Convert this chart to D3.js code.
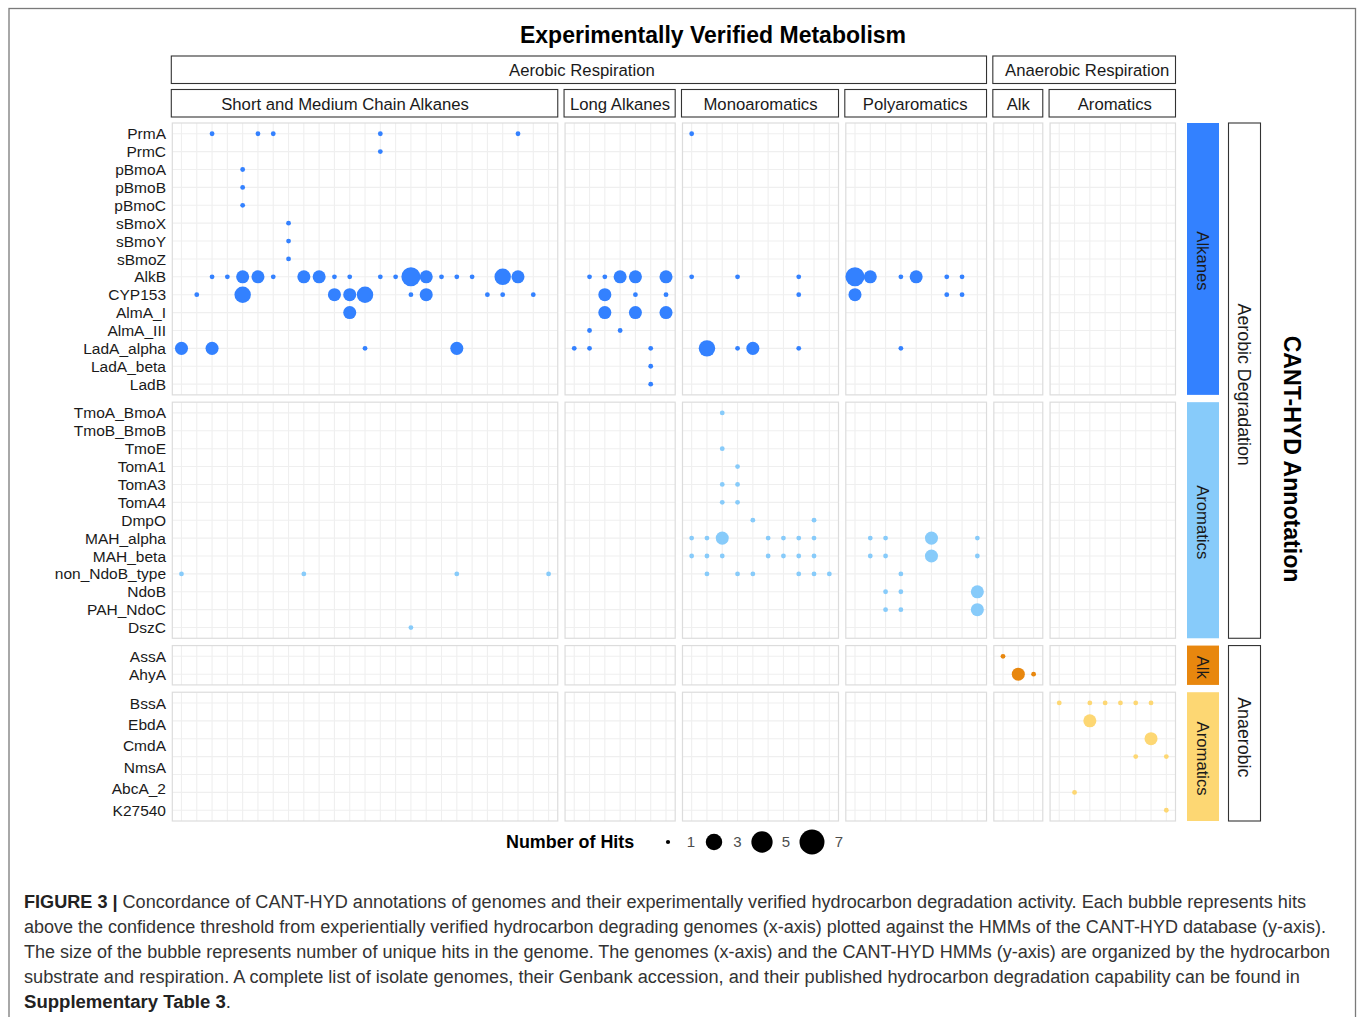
<!DOCTYPE html>
<html><head><meta charset="utf-8">
<script src="https://cdn.jsdelivr.net/npm/d3@7"></script>
<style>
body{margin:0;background:#fff}
svg{display:block}
text{font-family:"Liberation Sans",Arial,Helvetica,sans-serif}
</style>
</head><body>
<svg id="chart" width="1357" height="1017"></svg>
<script>
// ---------------- DATA ----------------
const chartTitle = "Experimentally Verified Metabolism";
const yAxisTitle = "CANT-HYD Annotation";
const legendTitle = "Number of Hits";
const legendValues = [1, 3, 5, 7];

// column facets (genome groups)
const xFacets = ["Short and Medium Chain Alkanes", "Long Alkanes", "Monoaromatics", "Polyaromatics", "Alk", "Aromatics"];
const xFacetGroups = ["Aerobic Respiration", "Aerobic Respiration", "Aerobic Respiration", "Aerobic Respiration", "Anaerobic Respiration", "Anaerobic Respiration"];
const genomesPerFacet = [25, 7, 10, 9, 3, 8];

// row facets (HMM groups)
const rowFacets = ["Alkanes", "Aromatics", "Alk", "Aromatics"];
const rowFacetGroups = ["Aerobic Degradation", "Aerobic Degradation", "Anaerobic", "Anaerobic"];
const rowFacetColors = ["#3381FF", "#87CBFA", "#E8870E", "#FDD773"];

const hmmAlkanes = ["PrmA", "PrmC", "pBmoA", "pBmoB", "pBmoC", "sBmoX", "sBmoY", "sBmoZ", "AlkB", "CYP153", "AlmA_I", "AlmA_III", "LadA_alpha", "LadA_beta", "LadB"];
const hmmAromatics = ["TmoA_BmoA", "TmoB_BmoB", "TmoE", "TomA1", "TomA3", "TomA4", "DmpO", "MAH_alpha", "MAH_beta", "non_NdoB_type", "NdoB", "PAH_NdoC", "DszC"];
const hmmAnaAlk = ["AssA", "AhyA"];
const hmmAnaArom = ["BssA", "EbdA", "CmdA", "NmsA", "AbcA_1", "AbcA_2", "K27540"];
const hmmAnaAromLabels = ["BssA", "EbdA", "CmdA", "NmsA", "AbcA_2", "K27540"];

// hits: [HMM, column facet index, genome index within facet, number of hits]
const hitsAlkanes = [
  ["PrmA",0,2,1],["PrmA",0,5,1],["PrmA",0,6,1],["PrmA",0,13,1],["PrmA",0,22,1],
  ["PrmC",0,13,1],
  ["pBmoA",0,4,1],["pBmoB",0,4,1],["pBmoC",0,4,1],
  ["sBmoX",0,7,1],["sBmoY",0,7,1],["sBmoZ",0,7,1],
  ["AlkB",0,2,1],["AlkB",0,3,1],["AlkB",0,4,2],["AlkB",0,5,2],["AlkB",0,6,1],["AlkB",0,8,2],["AlkB",0,9,2],
  ["AlkB",0,10,1],["AlkB",0,11,1],["AlkB",0,13,1],["AlkB",0,14,1],["AlkB",0,15,4],["AlkB",0,16,2],["AlkB",0,17,1],
  ["AlkB",0,18,1],["AlkB",0,19,1],["AlkB",0,21,3],["AlkB",0,22,2],
  ["CYP153",0,1,1],["CYP153",0,4,3],["CYP153",0,10,2],["CYP153",0,11,2],["CYP153",0,12,3],["CYP153",0,15,1],
  ["CYP153",0,16,2],["CYP153",0,20,1],["CYP153",0,21,1],["CYP153",0,23,1],
  ["AlmA_I",0,11,2],
  ["LadA_alpha",0,0,2],["LadA_alpha",0,2,2],["LadA_alpha",0,12,1],["LadA_alpha",0,18,2],
  ["AlkB",1,1,1],["AlkB",1,2,1],["AlkB",1,3,2],["AlkB",1,4,2],["AlkB",1,6,2],
  ["CYP153",1,2,2],["CYP153",1,4,1],["CYP153",1,6,1],
  ["AlmA_I",1,2,2],["AlmA_I",1,4,2],["AlmA_I",1,6,2],
  ["AlmA_III",1,1,1],["AlmA_III",1,3,1],
  ["LadA_alpha",1,0,1],["LadA_alpha",1,1,1],["LadA_alpha",1,5,1],
  ["LadA_beta",1,5,1],["LadB",1,5,1],
  ["PrmA",2,0,1],
  ["AlkB",2,0,1],["AlkB",2,3,1],["AlkB",2,7,1],
  ["CYP153",2,7,1],
  ["LadA_alpha",2,1,3],["LadA_alpha",2,3,1],["LadA_alpha",2,4,2],["LadA_alpha",2,7,1],
  ["AlkB",3,0,4],["AlkB",3,1,2],["AlkB",3,3,1],["AlkB",3,4,2],["AlkB",3,6,1],["AlkB",3,7,1],
  ["CYP153",3,0,2],["CYP153",3,6,1],["CYP153",3,7,1],
  ["LadA_alpha",3,3,1]
];
const hitsAromatics = [
  ["non_NdoB_type",0,0,1],["non_NdoB_type",0,8,1],["non_NdoB_type",0,18,1],["non_NdoB_type",0,24,1],
  ["DszC",0,15,1],
  ["TmoA_BmoA",2,2,1],["TmoE",2,2,1],["TomA1",2,3,1],["TomA3",2,2,1],["TomA3",2,3,1],["TomA4",2,2,1],["TomA4",2,3,1],
  ["DmpO",2,4,1],["DmpO",2,8,1],
  ["MAH_alpha",2,0,1],["MAH_alpha",2,1,1],["MAH_alpha",2,2,2],["MAH_alpha",2,5,1],["MAH_alpha",2,6,1],["MAH_alpha",2,7,1],["MAH_alpha",2,8,1],
  ["MAH_beta",2,0,1],["MAH_beta",2,1,1],["MAH_beta",2,2,1],["MAH_beta",2,5,1],["MAH_beta",2,6,1],["MAH_beta",2,7,1],["MAH_beta",2,8,1],
  ["non_NdoB_type",2,1,1],["non_NdoB_type",2,3,1],["non_NdoB_type",2,4,1],["non_NdoB_type",2,7,1],["non_NdoB_type",2,8,1],["non_NdoB_type",2,9,1],
  ["MAH_alpha",3,1,1],["MAH_alpha",3,2,1],["MAH_alpha",3,5,2],["MAH_alpha",3,8,1],
  ["MAH_beta",3,1,1],["MAH_beta",3,2,1],["MAH_beta",3,5,2],["MAH_beta",3,8,1],
  ["non_NdoB_type",3,3,1],
  ["NdoB",3,2,1],["NdoB",3,3,1],["NdoB",3,8,2],
  ["PAH_NdoC",3,2,1],["PAH_NdoC",3,3,1],["PAH_NdoC",3,8,2]
];
const hitsAnaAlk = [
  ["AssA",4,0,1],["AhyA",4,1,2],["AhyA",4,2,1]
];
const hitsAnaArom = [
  ["BssA",5,0,1],["BssA",5,2,1],["BssA",5,3,1],["BssA",5,4,1],["BssA",5,5,1],["BssA",5,6,1],
  ["EbdA",5,2,2],["CmdA",5,6,2],["NmsA",5,5,1],["NmsA",5,7,1],
  ["AbcA_2",5,1,1],["K27540",5,7,1]
];

const captionLines = [
  [["FIGURE 3 |", true], [" Concordance of CANT-HYD annotations of genomes and their experimentally verified hydrocarbon degradation activity. Each bubble represents hits", false]],
  [["above the confidence threshold from experientially verified hydrocarbon degrading genomes (x-axis) plotted against the HMMs of the CANT-HYD database (y-axis).", false]],
  [["The size of the bubble represents number of unique hits in the genome. The genomes (x-axis) and the CANT-HYD HMMs (y-axis) are organized by the hydrocarbon", false]],
  [["substrate and respiration. A complete list of isolate genomes, their Genbank accession, and their published hydrocarbon degradation capability can be found in", false]],
  [["Supplementary Table 3", true], [".", false]]
];

const hmmRows = [hmmAlkanes, hmmAromatics, hmmAnaAlk, hmmAnaArom];
const hmmLabels = [hmmAlkanes, hmmAromatics, hmmAnaAlk, hmmAnaAromLabels];
const hits = [hitsAlkanes, hitsAromatics, hitsAnaAlk, hitsAnaArom];

// ---------------- LAYOUT ----------------
const svg = d3.select("#chart");
const L = 172.3, R = 1175.5, T = 123, B = 821, GAP = 7.3;
const TXT = "#1a1a1a";
const STRIP_FS = 16.7;

function buildPanels(counts, a0, a1) {
  const units = d3.sum(counts, n => n + 0.2);
  const step = (a1 - a0 - GAP * (counts.length - 1)) / units;
  let c = a0;
  return counts.map(n => {
    const w = (n + 0.2) * step;
    const p = { a0: c, a1: c + w };
    c += w + GAP;
    return p;
  });
}
const xPanels = buildPanels(genomesPerFacet, L, R).map((p, i) =>
  Object.assign(p, { scale: d3.scalePoint().domain(d3.range(genomesPerFacet[i])).range([p.a0, p.a1]).padding(0.6) }));
const yPanels = buildPanels(hmmRows.map(r => r.length), T, B).map((p, i) =>
  Object.assign(p, { scale: d3.scalePoint().domain(hmmRows[i]).range([p.a0, p.a1]).padding(0.6) }));

const rScale = d3.scaleSqrt().domain([0, d3.max(legendValues) - 1]).range([2.4, 12.5]);
const radius = v => rScale(v - 1);

// outer frame
svg.append("rect").attr("x", 9).attr("y", 8.5).attr("width", 1346.5).attr("height", 1040)
  .attr("fill", "none").attr("stroke", "#7a7a7a").attr("stroke-width", 1.3);

// title
svg.append("text").attr("x", 713).attr("y", 43).attr("text-anchor", "middle")
  .attr("font-size", 23).attr("font-weight", "bold").attr("fill", "#000").text(chartTitle);

// panels
const gPanels = svg.append("g");
yPanels.forEach((yp, i) => {
  xPanels.forEach((xp, j) => {
    const g = gPanels.append("g");
    g.append("rect").attr("x", xp.a0).attr("y", yp.a0).attr("width", xp.a1 - xp.a0).attr("height", yp.a1 - yp.a0).attr("fill", "#fff");
    xp.scale.domain().forEach(k => {
      g.append("line").attr("x1", xp.scale(k)).attr("x2", xp.scale(k)).attr("y1", yp.a0).attr("y2", yp.a1)
        .attr("stroke", "#EFEFEF").attr("stroke-width", 1.1);
    });
    yp.scale.domain().forEach(h => {
      g.append("line").attr("y1", yp.scale(h)).attr("y2", yp.scale(h)).attr("x1", xp.a0).attr("x2", xp.a1)
        .attr("stroke", "#EFEFEF").attr("stroke-width", 1.1);
    });
    g.append("rect").attr("x", xp.a0).attr("y", yp.a0).attr("width", xp.a1 - xp.a0).attr("height", yp.a1 - yp.a0)
      .attr("fill", "none").attr("stroke", "#DCDCDC").attr("stroke-width", 1.2);
  });
  // points
  gPanels.append("g").selectAll("circle").data(hits[i]).join("circle")
    .attr("cx", d => xPanels[d[1]].scale(d[2]))
    .attr("cy", d => yp.scale(d[0]))
    .attr("r", d => radius(d[3]))
    .attr("fill", rowFacetColors[i]);

  // y axis labels
  const rows = hmmRows[i], labs = hmmLabels[i];
  const ls = labs === rows ? yp.scale :
    d3.scalePoint().domain(labs).range([yp.scale(rows[0]), yp.scale(rows[rows.length - 1])]);
  svg.append("g").selectAll("text").data(labs).join("text")
    .attr("x", 166).attr("y", d => ls(d)).attr("dy", "0.36em").attr("text-anchor", "end")
    .attr("font-size", 15.5).attr("fill", TXT).text(d => d);
});

// top strips
function groupsOf(arr) {
  const out = [];
  arr.forEach((g, i) => {
    if (out.length && out[out.length - 1].name === g) out[out.length - 1].end = i;
    else out.push({ name: g, start: i, end: i });
  });
  return out;
}
groupsOf(xFacetGroups).forEach(gr => {
  const x0 = xPanels[gr.start].a0 - 1, x1 = xPanels[gr.end].a1;
  svg.append("rect").attr("x", x0).attr("y", 56).attr("width", x1 - x0).attr("height", 27.5)
    .attr("fill", "#fff").attr("stroke", "#333").attr("stroke-width", 1.1);
  svg.append("text").attr("x", (x0 + x1) / 2 + 3).attr("y", 70).attr("dy", "0.36em").attr("text-anchor", "middle")
    .attr("font-size", STRIP_FS).attr("fill", TXT).text(gr.name);
});
const stripLabelShift = [-20, 0, 0, -1, 0, 2];
xPanels.forEach((xp, j) => {
  svg.append("rect").attr("x", xp.a0 - 1).attr("y", 89.5).attr("width", xp.a1 - xp.a0 + 1).attr("height", 27.5)
    .attr("fill", "#fff").attr("stroke", "#333").attr("stroke-width", 1.1);
  svg.append("text").attr("x", (xp.a0 + xp.a1) / 2 + stripLabelShift[j]).attr("y", 104).attr("dy", "0.36em").attr("text-anchor", "middle")
    .attr("font-size", STRIP_FS).attr("fill", TXT).text(xFacets[j]);
});

// right strips
yPanels.forEach((yp, i) => {
  svg.append("rect").attr("x", 1187).attr("y", yp.a0).attr("width", 32).attr("height", yp.a1 - yp.a0)
    .attr("fill", rowFacetColors[i]);
  const cy = (yp.a0 + yp.a1) / 2 + 2;
  svg.append("text").attr("transform", `translate(1203,${cy}) rotate(90)`).attr("dy", "0.36em")
    .attr("text-anchor", "middle").attr("font-size", STRIP_FS).attr("fill", TXT).text(rowFacets[i]);
});
groupsOf(rowFacetGroups).forEach(gr => {
  const y0 = yPanels[gr.start].a0, y1 = yPanels[gr.end].a1;
  svg.append("rect").attr("x", 1228.5).attr("y", y0).attr("width", 32).attr("height", y1 - y0)
    .attr("fill", "#fff").attr("stroke", "#333").attr("stroke-width", 1.1);
  svg.append("text").attr("transform", `translate(1244.5,${(y0 + y1) / 2 + 4}) rotate(90)`).attr("dy", "0.36em")
    .attr("text-anchor", "middle").attr("font-size", 17.8).attr("fill", TXT).text(gr.name);
});
svg.append("text").attr("transform", `translate(1292,459) rotate(90)`).attr("dy", "0.36em")
  .attr("text-anchor", "middle").attr("font-size", 23.1).attr("font-weight", "bold").attr("fill", "#000").text(yAxisTitle);

// legend
const legY = 842;
svg.append("text").attr("x", 506).attr("y", legY).attr("dy", "0.36em").attr("font-size", 17.9)
  .attr("font-weight", "bold").attr("fill", "#000").text(legendTitle);
const legKeyX = [668, 714, 762, 812];
const legLabX = [691, 737.5, 786, 839];
legendValues.forEach((v, k) => {
  svg.append("circle").attr("cx", legKeyX[k]).attr("cy", legY).attr("r", v === 1 ? 2.1 : radius(v)).attr("fill", "#000");
  svg.append("text").attr("x", legLabX[k]).attr("y", legY).attr("dy", "0.36em").attr("text-anchor", "middle")
    .attr("font-size", 15).attr("fill", "#4d4d4d").text(v);
});

// caption
const capWidths = [1282, 1302, 1306, 1276, 207];
captionLines.forEach((line, i) => {
  const t = svg.append("text").attr("x", 24).attr("y", 908 + i * 25).attr("font-size", 18).attr("fill", "#333")
    .attr("textLength", capWidths[i]).attr("lengthAdjust", "spacingAndGlyphs");
  line.forEach(([s, bold]) => {
    t.append("tspan").attr("font-weight", bold ? "bold" : "normal").attr("fill", bold ? "#222" : "#333").text(s);
  });
});
</script>
</body></html>
